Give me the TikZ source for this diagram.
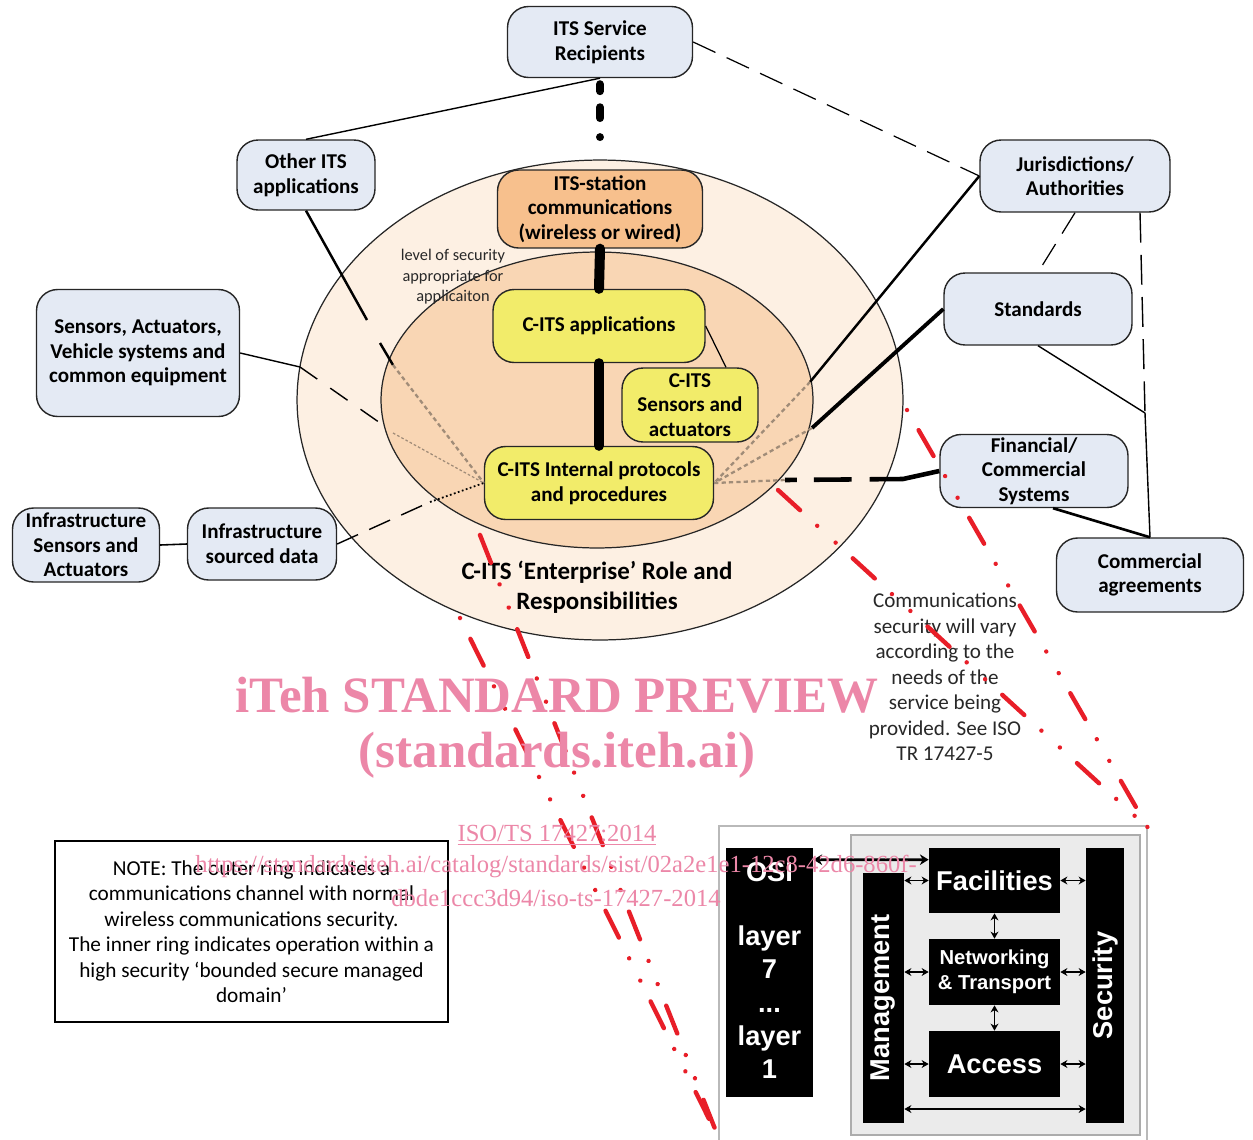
\documentclass[tikz,border=0pt]{standalone}
\usepackage{fontspec}
\setmainfont{Carlito}
\newfontfamily\armo{Liberation Sans}
\newfontfamily\tms{Liberation Serif}
\usetikzlibrary{calc,arrows.meta}
\definecolor{bluefill}{RGB}{228,234,244}
\definecolor{outerfill}{RGB}{253,240,227}
\definecolor{innerfill}{RGB}{249,214,180}
\definecolor{orangefill}{RGB}{247,192,141}
\definecolor{yellowfill}{RGB}{242,236,106}
\definecolor{brownd}{RGB}{160,140,120}
\definecolor{redl}{RGB}{232,30,40}
\definecolor{pinkw}{RGB}{236,135,168}
\definecolor{greyt}{RGB}{40,40,40}
\begin{document}
\begin{tikzpicture}[x=0.02cm,y=-0.02cm,
  box/.style={draw=black!85, line width=0.8pt, rounded corners=12pt, align=center, inner sep=0pt, font=\fontsize{12}{14}\selectfont\bfseries},
  bluebox/.style={box, fill=bluefill},
  orbox/.style={box, fill=orangefill},
  yelbox/.style={box, fill=yellowfill},
  browndot/.style={draw=brownd, line width=1.3pt, dash pattern=on 2.4pt off 1.8pt},
  brownthin/.style={draw=brownd, line width=0.7pt, dash pattern=on 1.5pt off 1.2pt},
  thickc/.style={line width=5.7pt, line cap=round},
  longdash/.style={line width=0.7pt, dash pattern=on 14pt off 7pt},
  redsty/.style={draw=redl, line width=2.5pt, line cap=round, dash pattern=on 17pt off 13.2pt on 0.01pt off 14.2pt on 0.01pt off 13.2pt},
  osiblk/.style={fill=black, inner sep=0pt},
  ositxt/.style={text=white, inner sep=0pt, font=\armo\bfseries\fontsize{15.5}{18}\selectfont, align=center},
  darr/.style={{Stealth[length=4pt,width=4.5pt]}-{Stealth[length=4pt,width=4.5pt]}, line width=1pt},
  wmbig/.style={text=pinkw, inner sep=0pt, font=\tms\bfseries\fontsize{29}{34}\selectfont},
  wmsmall/.style={text=pinkw, inner sep=0pt, font=\tms\fontsize{14}{16}\selectfont}
]
\useasboundingbox (0,0) rectangle (1253,1139);
\fill[white] (0,0) rectangle (1253,1139);

% ellipses
\filldraw[fill=outerfill, draw=black!85, line width=0.7pt] (600,400) ellipse [x radius=6.06cm, y radius=4.8cm];
\filldraw[fill=innerfill, draw=black!85, line width=0.7pt] (597,400) ellipse [x radius=4.32cm, y radius=2.96cm];

% nodes
\node[bluebox, minimum width=3.70cm, minimum height=1.42cm] (rec) at (600,42) {ITS Service\\Recipients};
\node[bluebox, minimum width=2.76cm, minimum height=1.40cm] (oth) at (306,175) {Other ITS\\applications};
\node[bluebox, minimum width=4.06cm, minimum height=2.54cm] (sns) at (138,353) {Sensors, Actuators,\\Vehicle systems and\\common equipment};
\node[bluebox, minimum width=2.94cm, minimum height=1.48cm] (ias) at (86,545) {Infrastructure\\Sensors and\\Actuators};
\node[bluebox, minimum width=2.98cm, minimum height=1.44cm] (isd) at (262,544) {Infrastructure\\sourced data};
\node[bluebox, minimum width=3.80cm, minimum height=1.44cm] (jur) at (1075,176) {Jurisdictions/\\Authorities};
\node[bluebox, minimum width=3.76cm, minimum height=1.44cm] (std) at (1038,309) {Standards};
\node[bluebox, minimum width=3.76cm, minimum height=1.46cm] (fin) at (1034,471) {Financial/\\Commercial\\Systems};
\node[bluebox, minimum width=3.74cm, minimum height=1.48cm] (com) at (1150,575) {Commercial\\agreements};
\node[orbox, minimum width=4.10cm, minimum height=1.56cm] (its) at (600,209) {ITS-station\\communications\\(wireless or wired)};
\node[yelbox, minimum width=4.24cm, minimum height=1.46cm] (app) at (599,326) {C-ITS applications};
\node[yelbox, minimum width=2.72cm, minimum height=1.48cm] (sen) at (690,405) {C-ITS\\Sensors and\\actuators};
\node[yelbox, minimum width=4.58cm, minimum height=1.46cm] (int) at (599,483) {C-ITS Internal protocols\\and procedures};

% left connectors
\draw[line width=0.8pt] (rec.south) -- (oth.north);
\draw[line width=4.5pt, line cap=round, dash pattern=on 4pt off 9.1pt on 6.2pt off 10.8pt on 0.01pt off 80pt, dash phase=106.7pt] (rec.south) -- (its.north);
\coordinate (o1) at (367,320);
\coordinate (o2) at (380,343);
\coordinate (o3) at (393,365);
\draw[line width=1.4pt] (oth.south) -- (o1) (o2) -- (o3);
\draw[browndot] (o3) -- (int.west);
\coordinate (s1) at (300,367);
\coordinate (s2) at (383,425);
\coordinate (s3) at (393,433);
\draw[line width=0.8pt] (sns.east) -- (s1);
\draw[line width=0.8pt, dash pattern=on 12pt off 9pt] (s1) -- (s2);
\draw[brownthin] (s3) -- (int.west);
\draw[line width=0.9pt] (ias.east) -- (isd.west);
\coordinate (i1) at (430,502);
\draw[line width=0.8pt, dash pattern=on 13pt off 7pt] (isd.east) -- (i1);
\draw[line width=1pt, dash pattern=on 1pt off 1.4pt] (i1) -- (int.west);

% inner connectors
\draw[thickc] (its.south) -- (app.north);
\draw[thickc] (app.south) -- (int.north);
\draw[line width=0.7pt] (app.east) -- ($(sen.north)+(36,0)$);

% right connectors
\coordinate (r1) at (810,382);
\coordinate (r2) at (812,428);
\coordinate (f1) at (785,480);
\coordinate (f2) at (903,479);
\draw[line width=1.4pt] (jur.west) -- (r1);
\draw[browndot] (r1) -- (int.east);
\draw[line width=2.2pt] (std.west) -- (r2);
\draw[browndot] (r2) -- (int.east);
\draw[browndot] (int.east) -- (f1);
\draw[line width=2.6pt, dash pattern=on 6.8pt off 9.6pt on 21.5pt off 10.2pt on 120pt] (f1) -- (f2) -- (fin.west);
\draw[longdash] (rec.east) -- (jur.west);
\draw[longdash] (jur.south) -- (std.north);
\coordinate (j1) at (1145,413);
\draw[line width=0.8pt, dash pattern=on 17pt off 7pt] ($(jur.south)+(65,0)$) -- (j1);
\draw[line width=0.8pt] (j1) -- (com.north);
\draw[line width=0.8pt] (std.south) -- (j1);
\draw[line width=1.5pt] ($(fin.south)+(19,0)$) -- (com.north);

% texts
\node[text=greyt, align=center, inner sep=0pt, font=\fontsize{9.3}{11.6}\selectfont] (lvl) at (453,277) {level of security\\appropriate for\\applicaiton};
\node[align=center, inner sep=0pt, font=\fontsize{14.2}{17}\selectfont\bfseries] (ent) at (597,587) {C-ITS ‘Enterprise’ Role and\\Responsibilities};
\node[text=greyt, align=center, inner sep=0pt, font=\fontsize{12}{14.5}\selectfont] (cms) at (945,677) {Communications\\security will vary\\according to the\\needs of the\\service being\\provided. See ISO\\TR 17427-5};
\node[draw, line width=1.2pt, minimum width=7.86cm, minimum height=3.62cm, align=center, inner sep=0pt, font=\fontsize{12.1}{14.5}\selectfont] (note) at (251.5,931.5) {NOTE: The outer ring indicates a\\communications channel with normal\\wireless communications security.\\The inner ring indicates operation within a\\high security ‘bounded secure managed\\domain’};

% OSI block
\filldraw[fill=white, draw=gray!55, line width=0.8pt] (719,826) rectangle (1147,1150);
\filldraw[fill=gray!16, draw=gray!65, line width=1pt] (851,835) rectangle (1140,1135);
\node[osiblk, minimum width=1.74cm, minimum height=4.98cm] (osi) at (769.5,972.5) {};
\node[ositxt] (osi1) at (769.5,872) {OSI};
\node[ositxt] (osi2) at (769.5,938) {layer};
\node[ositxt] (osi3) at (769.5,969) {7};
\node[ositxt] (osi4) at (769.5,1010) {...};
\node[ositxt] (osi5) at (769.5,1038) {layer};
\node[ositxt] (osi6) at (769.5,1069) {1};
\node[osiblk, minimum width=0.82cm, minimum height=5.0cm] (mgmt) at (883.5,998) {};
\node[ositxt, rotate=90] (mgt) at (mgmt.center) {Management};
\node[osiblk, minimum width=0.76cm, minimum height=5.5cm] (sec) at (1105,985.5) {};
\node[ositxt, rotate=90] (sect) at (sec.center) {Security};
\node[osiblk, minimum width=2.62cm, minimum height=1.30cm, ositxt] (fac) at (994.5,880.5) {Facilities};
\node[osiblk, minimum width=2.62cm, minimum height=1.32cm, ositxt, font=\armo\bfseries\fontsize{11.5}{14}\selectfont] (net) at (994.5,972) {Networking\\\& Transport};
\node[osiblk, minimum width=2.62cm, minimum height=1.32cm, ositxt] (acc) at (994.5,1064) {Access};
\draw[darr, line width=1.6pt, {Stealth[length=5pt,width=6pt]}-{Stealth[length=5pt,width=6pt]}] ($(osi.north east)+(0,12)$) -- ($(fac.north west)+(0,12)$);
\draw[darr] (mgmt.east |- fac.west) -- (fac.west);
\draw[darr] (fac.east) -- (sec.west |- fac.east);
\draw[darr] (mgmt.east |- net.west) -- (net.west);
\draw[darr] (net.east) -- (sec.west |- net.east);
\draw[darr] (mgmt.east |- acc.west) -- (acc.west);
\draw[darr] (acc.east) -- (sec.west |- acc.east);
\draw[darr] (fac.south) -- (net.north);
\draw[darr] (net.south) -- (acc.north);
\coordinate (bot) at (0,1109);
\draw[darr] (mgmt.east |- bot) -- (sec.west |- bot);

% red projection lines
\coordinate (ra) at (480,535);
\coordinate (rb) at (460,618);
\coordinate (rbl) at (719,1139);
\coordinate (rc) at (907,410);
\coordinate (rd) at (778,490);
\coordinate (rtr) at (1148,828);
\draw[redsty] (ra) -- (rbl);
\draw[redsty, dash phase=44.4pt] (rb) -- (rbl);
\draw[redsty, dash phase=44.4pt] (rc) -- (rtr);
\draw[redsty] (rd) -- (rtr);

% watermark
\node[wmbig] (wm1) at (557,695) {iTeh STANDARD PREVIEW};
\node[wmbig] (wm2) at (557,755) {(standards.iteh.ai)};
\node[wmsmall] (wm3) at (557,835) {\underline{ISO/TS 17427:2014}};
\node[wmsmall] (wm4) at (556,866) {https://standards.iteh.ai/catalog/standards/sist/02a2e1e1-12c8-42d6-860f-};
\node[wmsmall] (wm5) at (556,898) {dbde1ccc3d94/iso-ts-17427-2014};
\end{tikzpicture}
\end{document}
